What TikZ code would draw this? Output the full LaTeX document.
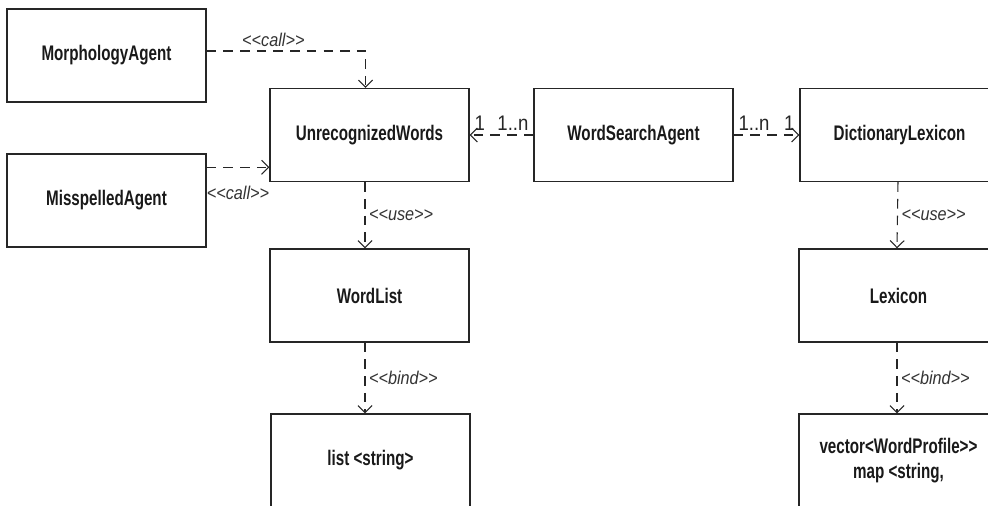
\documentclass[tikz,border=0pt]{standalone}
\usepackage{fontspec}
\setmainfont{Liberation Sans}[FakeStretch=0.72, Ligatures=TeXOff]
\newfontfamily\lblfont{Liberation Sans}[FakeStretch=0.88, Ligatures=TeXOff]
\usetikzlibrary{arrows.meta,positioning}
\tikzset{
    box/.style    = {rectangle, draw=black!85, line width=0.8pt, minimum width=3.98cm, minimum height=1.86cm,
                     inner sep=0pt, align=center, font=\fontsize{12}{14}\selectfont\bfseries, text=black!90},
    dep/.style    = {-{Straight Barb[length=4pt,width=8pt]}, draw=black!85, line width=0.6pt, dash pattern=on 5.5pt off 4pt},
    stereo/.style = {font=\lblfont\fontsize{10.5}{12}\selectfont\itshape, text=black!80, inner sep=2pt},
    mult/.style   = {font=\lblfont\fontsize{12}{13}\selectfont, text=black!85, inner sep=2.5pt}
}
\begin{document}
\begin{tikzpicture}[x=0.02cm, y=-0.02cm]
    \useasboundingbox (0,0) rectangle (988,506);
    \clip (0,0) rectangle (988,506);
    % classes
    \node[box] (morph) at (106.5, 55.5)  {MorphologyAgent};
    \node[box] (missp) at (106.5, 200.5) {MisspelledAgent};
    \node[box] (uw)    at (369.5, 135)   {UnrecognizedWords};
    \node[box] (wsa)   at (633.5, 135)   {WordSearchAgent};
    \node[box] (dict)  at (899.5, 135)   {DictionaryLexicon};
    \node[box] (wlist) at (369.5, 295.5) {WordList};
    \node[box] (lex)   at (898.5, 295.5) {Lexicon};
    \node[box] (lstr)  at (370.5, 460.5) {list <string>};
    \node[box] (vect)  at (898.5, 460.5) {vector<WordProfile>>\\map <string,};
    % dependencies
    \draw[dep] ([yshift=0.09cm]morph.east) -| node[stereo, above, pos=0.21] (c1) {<<call>>} ([xshift=-0.08cm]uw.north);
    \draw[dep] ([yshift=-0.28cm]missp.north east) -- node[stereo, below=0.3cm] (c2) {<<call>>} ([yshift=-0.28cm]missp.north east -| uw.west);
    \draw[dep] (wsa.west) -- (uw.east)
        node[mult, pos=0, above left] (m1) {1..n}
        node[mult, pos=1, above right] (m2) {1};
    \draw[dep] (wsa.east) -- (dict.west)
        node[mult, pos=0, above right] (m3) {1..n}
        node[mult, pos=1, above left] (m4) {1};
    \draw[dep] ([xshift=-0.09cm]uw.south) -- node[stereo, right] (u1) {<<use>>} ([xshift=-0.09cm]wlist.north);
    \draw[dep] ([xshift=-0.09cm]wlist.south) -- node[stereo, right] (b1) {<<bind>>} ([xshift=-0.11cm]lstr.north);
    \draw[dep] ([xshift=-0.03cm]dict.south) -- node[stereo, right] (u2) {<<use>>} ([xshift=-0.03cm]lex.north);
    \draw[dep] ([xshift=-0.03cm]lex.south) -- node[stereo, right] (b2) {<<bind>>} ([xshift=-0.03cm]vect.north);
\end{tikzpicture}
\end{document}
